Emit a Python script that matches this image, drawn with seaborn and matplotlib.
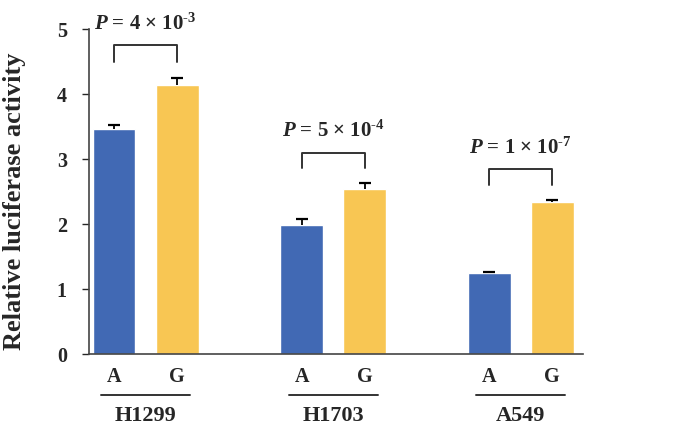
import numpy as np
import pandas as pd
import seaborn as sns
import matplotlib
matplotlib.use("Agg")
import matplotlib.pyplot as plt
import matplotlib.transforms as mtransforms

# values
cells = ["H1299", "H1703", "A549"]
alleles = ["A", "G"]
mean_a = [3.47, 1.98, 1.25]
mean_g = [4.14, 2.54, 2.34]
err_a = [0.06, 0.10, 0.02]
err_g = [0.10, 0.09, 0.03]
p_labels = [r"$P$ = 4 × 10$^{\text{-3}}$", r"$P$ = 5 × 10$^{\text{-4}}$", r"$P$ = 1 × 10$^{\text{-7}}$"]
bracket_top = [4.75, 3.10, 2.85]
bracket_leg = [4.49, 2.86, 2.60]

colors = ["#4169B4", "#F8C653"]

df = pd.DataFrame({
    "cell": np.repeat(cells, 2),
    "allele": alleles * len(cells),
    "value": [v for pair in zip(mean_a, mean_g) for v in pair],
})

sns.set_style("white")
plt.rcParams["font.family"] = ["Liberation Serif", "DejaVu Serif"]
plt.rcParams["font.weight"] = "bold"
plt.rcParams["mathtext.fontset"] = "custom"
plt.rcParams["mathtext.rm"] = "Liberation Serif:bold"
plt.rcParams["mathtext.it"] = "Liberation Serif:bold:italic"
plt.rcParams["mathtext.bf"] = "Liberation Serif:bold"

fig = plt.figure(figsize=(6.96, 4.33), dpi=100)
ax = fig.add_axes([0.128, 0.182, 0.71, 0.751])

sns.barplot(data=df, x="cell", y="value", hue="allele", order=cells,
            hue_order=alleles, palette=colors, width=0.672, gap=0.32,
            errorbar=None, legend=False, ax=ax, saturation=1)

# bar centers: first 3 patches are A, next 3 are G
bars = ax.patches
xa = [b.get_x() + b.get_width() / 2 for b in bars[:3]]
xg = [b.get_x() + b.get_width() / 2 for b in bars[3:6]]

# upper-only error bars with a cap on top
for xs, means, errs in [(xa, mean_a, err_a), (xg, mean_g, err_g)]:
    tops = np.array(means) + np.array(errs)
    ax.vlines(xs, means, tops, color="black", lw=1.3, zorder=3)
    ax.plot(xs, tops, ls="none", marker="_", ms=8, mew=1.6, color="black", zorder=3)

# significance brackets
for i in range(3):
    ax.plot([xa[i], xa[i], xg[i], xg[i]],
            [bracket_leg[i], bracket_top[i], bracket_top[i], bracket_leg[i]],
            color="#333333", lw=1.4)
    ax.text((xa[i] + xg[i]) / 2, bracket_top[i] + 0.16, p_labels[i],
            ha="center", va="bottom", fontsize=15)

ax.set_xlim(-0.301, 2.333)
ax.set_ylim(0, 5)
ax.set_yticks([0, 1, 2, 3, 4, 5])
ax.tick_params(axis="y", labelsize=14.5, length=5, width=1, direction="out", left=True, pad=11)
ax.set_xticks([])
ax.set_xlabel("")
ax.set_ylabel("Relative luciferase activity", fontsize=19, fontweight="bold")
ax.yaxis.set_label_coords(-0.128, 0.47)

sns.despine(ax=ax)
for side in ["left", "bottom"]:
    ax.spines[side].set_color("#444444")
    ax.spines[side].set_linewidth(1.2)

# allele labels, underline and cell line names below axis
trans = mtransforms.blended_transform_factory(ax.transData, ax.transAxes)
for i in range(3):
    ax.text(xa[i], -0.07, "A", transform=trans, ha="center", va="center", fontsize=14.5)
    ax.text(xg[i], -0.07, "G", transform=trans, ha="center", va="center", fontsize=14.5)
    ax.plot([xa[i] - 0.07, xg[i] + 0.07], [-0.125, -0.125], transform=trans,
            color="#333333", lw=1.4, clip_on=False)
    ax.text(i, -0.19, cells[i], transform=trans, ha="center", va="center", fontsize=16)

fig.savefig("out.png", dpi=100)
